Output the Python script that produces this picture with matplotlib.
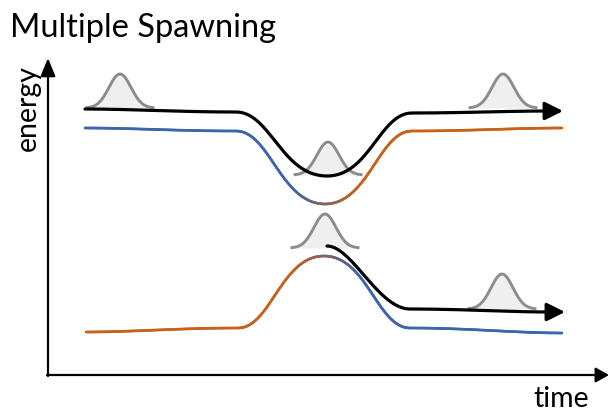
import numpy as np
import matplotlib
matplotlib.use("Agg")
from matplotlib import pyplot as plt
from matplotlib.bezier import BezierSegment
from matplotlib.collections import LineCollection
from matplotlib.patches import FancyArrowPatch
from matplotlib.colors import to_rgb

# anchor points of each energy curve (figure pixel coords, y down)
upper_black_x = [85, 236, 327, 412, 548]
upper_black_y = [109, 112, 176, 113, 111]

upper_state_x = [85, 236, 325, 412, 562]
upper_state_y = [128, 131, 204, 131, 128]

lower_state_x = [86, 238, 324, 410, 562]
lower_state_y = [332, 328, 256, 328, 333]

lower_black_x = [327, 410, 550]
lower_black_y = [246, 309, 312]

# wave packets: centre, baseline, height
packet_x = [120, 328, 325, 503, 502]
packet_base = [108, 175, 248, 108, 309]
packet_height = [34, 33, 34, 34, 35]

blue = "#3b66aa"
orange = "#c8621b"


def smooth(xs, ys, n=120):
    # cubic between anchors with flat tangents; rounder at extrema, softer at corners
    m = len(xs)
    frac = []
    for i in range(m):
        if i == 0 or i == m - 1:
            frac.append(0.3)
        else:
            d1, d2 = ys[i] - ys[i - 1], ys[i + 1] - ys[i]
            frac.append(0.5 if d1 * d2 < 0 and abs(d1) > 10 and abs(d2) > 10 else 0.38)
    px, py = [], []
    for i in range(m - 1):
        x0, y0, x1, y1 = xs[i], ys[i], xs[i + 1], ys[i + 1]
        dx = x1 - x0
        seg = BezierSegment(np.array([[x0, y0], [x0 + frac[i] * dx, y0],
                                      [x1 - frac[i + 1] * dx, y1], [x1, y1]]))
        pts = seg(np.linspace(0, 1, n))
        px.extend(pts[:, 0])
        py.extend(pts[:, 1])
    return np.array(px), np.array(py)


def gradient_line(ax, xs, ys, c_left, c_right, x0=290, x1=360, lw=1.9):
    px, py = smooth(xs, ys)
    pts = np.column_stack([px, py]).reshape(-1, 1, 2)
    segs = np.concatenate([pts[:-1], pts[1:]], axis=1)
    xm = 0.5 * (px[:-1] + px[1:])
    t = np.clip((xm - x0) / (x1 - x0), 0, 1)[:, None]
    cols = (1 - t) * np.array(to_rgb(c_left)) + t * np.array(to_rgb(c_right))
    lc = LineCollection(segs, colors=cols, linewidths=lw, capstyle="round", zorder=3)
    ax.add_collection(lc)


def black_arrow_line(ax, xs, ys):
    px, py = smooth(xs, ys)
    ax.plot(px, py, color="black", lw=2.3, solid_capstyle="round", zorder=4)
    arr = FancyArrowPatch((px[-1] - 2, py[-1]), (px[-1] + 15, py[-1]),
                          arrowstyle="-|>,head_length=11,head_width=5.5",
                          mutation_scale=1, color="black", lw=2.3, zorder=4,
                          shrinkA=0, shrinkB=0)
    ax.add_patch(arr)


fig = plt.figure(figsize=(6.1, 4.13), dpi=100)
ax = fig.add_axes([0, 0, 1, 1])
ax.set_xlim(0, 610)
ax.set_ylim(413, 0)
ax.axis("off")

# wave packets
for c, b, h in zip(packet_x, packet_base, packet_height):
    gx = np.linspace(c - 33, c + 33, 200)
    gy = b - h * np.exp(-(gx - c) ** 2 / (2 * 11 ** 2))
    ax.fill_between(gx, gy, b, color="#efefef", lw=0, zorder=1)
    ax.plot(gx, gy, color="#8c8c8c", lw=2.1, zorder=2)

gradient_line(ax, upper_state_x, upper_state_y, blue, orange)
gradient_line(ax, lower_state_x, lower_state_y, orange, blue)
black_arrow_line(ax, upper_black_x, upper_black_y)
black_arrow_line(ax, lower_black_x, lower_black_y)

# axes arrows
ax.add_patch(FancyArrowPatch((48, 376), (48, 58), arrowstyle="-|>,head_length=11,head_width=4.5",
                             mutation_scale=1, color="black", lw=1.6, shrinkA=0, shrinkB=0))
ax.add_patch(FancyArrowPatch((47, 375), (609, 375), arrowstyle="-|>,head_length=8,head_width=4.5",
                             mutation_scale=1, color="black", lw=1.6, shrinkA=0, shrinkB=0))

font = ["Lato", "DejaVu Sans"]
ax.text(10, 37, "Multiple Spawning", fontsize=23.5, family=font, ha="left", va="baseline")
ax.text(28, 108, "energy", fontsize=20.5, family=font, rotation=90, ha="center", va="center")
ax.text(561, 412, "time", fontsize=20.5, family=font, ha="center", va="bottom")

fig.savefig("out.png", dpi=100)
